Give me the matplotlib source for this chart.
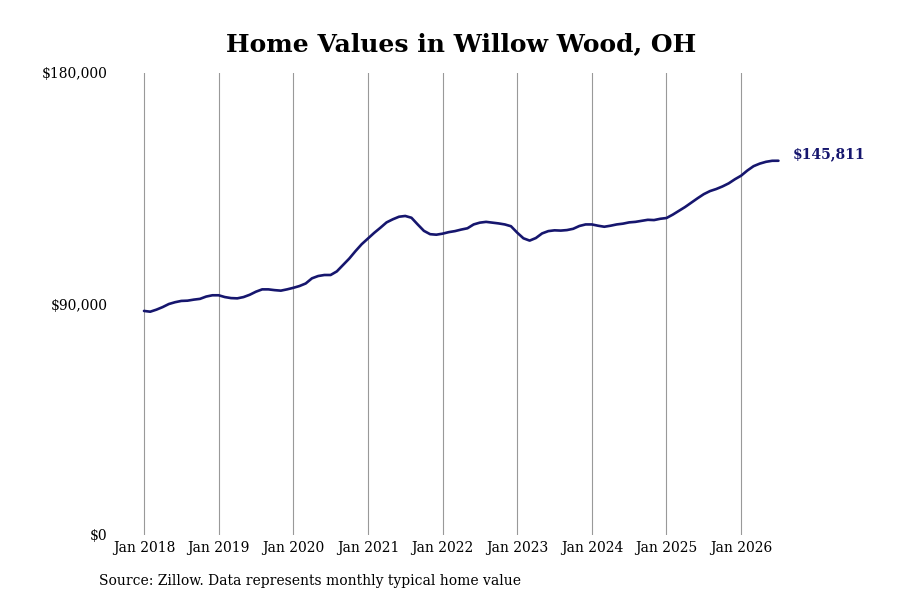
import numpy as np
import pandas as pd
import matplotlib
matplotlib.use('Agg')
import matplotlib.pyplot as plt

# monthly typical home value, Jan 2018 - Jul 2026
values = [
    87300, 87000, 87800, 88800, 90000, 90700, 91200, 91300, 91700, 92000, 92900, 93400,
    93400, 92700, 92300, 92200, 92700, 93600, 94800, 95700, 95700, 95400, 95200, 95700,
    96300, 97000, 98000, 100000, 100900, 101300, 101300, 102700, 105200, 107700, 110600, 113300,
    115500, 117700, 119700, 121800, 123000, 124000, 124300, 123600, 121000, 118500, 117200, 117000,
    117400, 118000, 118400, 119000, 119500, 121000, 121700, 122000, 121700, 121400, 121000, 120300,
    117800, 115600, 114700, 115700, 117500, 118400, 118700, 118600, 118800, 119300, 120400, 121000,
    121000, 120500, 120100, 120500, 121000, 121300, 121800, 122000, 122400, 122800, 122700, 123200,
    123500, 124800, 126300, 127800, 129500, 131200, 132800, 134000, 134800, 135800, 137000, 138600,
    140000, 142000, 143700, 144700, 145400, 145800, 145811,
]
dates = pd.date_range('2018-01-01', periods=len(values), freq='MS')
tick_years = list(range(2018, 2027))
tick_labels = [f'Jan {y}' for y in tick_years]
y_ticks = [0, 90000, 180000]
y_labels = ['$0', '$90,000', '$180,000']

plt.rcParams['font.family'] = 'DejaVu Serif'
line_color = '#16166e'

fig = plt.figure(figsize=(9, 6), dpi=100)
ax = fig.add_axes([112 / 900, 65 / 600, 688 / 900, 462 / 600])

x = np.arange(len(values))
ax.plot(x, values, color=line_color, linewidth=1.9, solid_capstyle='round')

ax.set_xlim(-32 / 6.22, 656 / 6.22)
ax.set_ylim(0, 180000)
ax.set_xticks([(y - 2018) * 12 for y in tick_years])
ax.set_xticklabels(tick_labels, fontsize=10)
ax.set_yticks(y_ticks)
ax.set_yticklabels(y_labels, fontsize=10)
ax.tick_params(axis='both', length=0)
ax.tick_params(axis='y', pad=3)
ax.tick_params(axis='x', pad=4)
ax.grid(True, axis='x', color='#999999', linewidth=0.8)
ax.grid(False, axis='y')
for s in ax.spines.values():
    s.set_visible(False)

ax.annotate(f'${values[-1]:,}', xy=(x[-1], values[-1]), xytext=(10, 4.5),
            textcoords='offset points', fontsize=10, fontweight='bold',
            color=line_color, va='center', ha='left')

fig.text(461 / 900, 1 - 44 / 600, 'Home Values in Willow Wood, OH',
         fontsize=18, fontweight='bold', ha='center', va='center')
fig.text(99 / 900, 1 - 581 / 600, 'Source: Zillow. Data represents monthly typical home value',
         fontsize=10, ha='left', va='center')

plt.savefig('out.png', dpi=100)
